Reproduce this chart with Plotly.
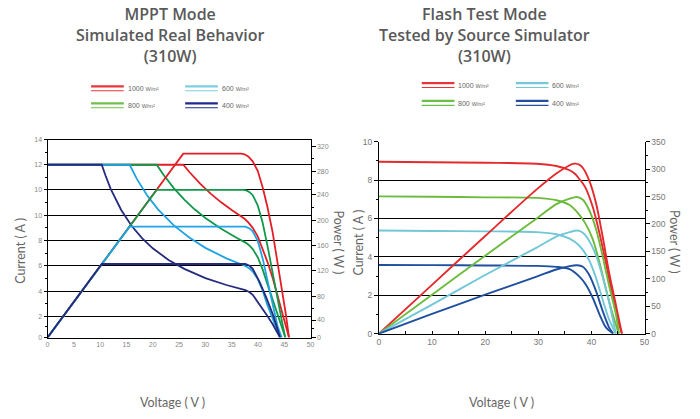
import plotly.graph_objects as go

W, H = 700, 419
def px(x): return x / W
def py(y): return 1 - y / H

# ---------------- Left chart: MPPT mode (simulated) ----------------
irr_labels = ["1000", "800", "600", "400"]

mppt_p_v_1000 = [0, 25.8, 36.8, 37.45, 38.2, 39.0, 39.95, 40.9, 41.8, 42.8, 43.7, 44.65, 45.3, 45.9]
mppt_p_w_1000 = [0, 310, 310, 309, 305, 297, 281, 253, 220, 177, 127, 78, 39, 0]
mppt_p_v_800 = [0, 20.75, 37.2, 37.8, 38.4, 39.0, 39.95, 40.9, 41.8, 42.8, 43.7, 44.65, 45.2]
mppt_p_w_800 = [0, 249, 249, 248, 245, 240, 223, 193, 155, 111, 67, 23, 0]
mppt_p_v_600 = [0, 15.6, 37.6, 38.4, 39.0, 39.95, 40.9, 41.8, 42.8, 43.7, 44.5]
mppt_p_w_600 = [0, 187, 187, 184, 179, 163, 133, 94, 56, 20, 0]
mppt_p_v_400 = [0, 10.3, 37.6, 38.4, 39.0, 40.3, 41.6, 42.8, 43.7, 44.2]
mppt_p_w_400 = [0, 124, 124, 121, 116, 94, 67, 39.5, 15, 0]

mppt_i_v_1000 = [0, 25.8, 27, 29, 31, 33, 35, 36.8, 37.45, 38.2, 39.0, 39.95, 40.9, 41.8, 42.8, 43.7, 44.65, 45.3, 45.9]
mppt_i_a_1000 = [12, 12, 11.48, 10.69, 10.0, 9.39, 8.86, 8.42, 8.25, 7.98, 7.62, 7.03, 6.19, 5.26, 4.14, 2.91, 1.75, 0.86, 0]
mppt_i_v_800 = [0, 20.75, 22, 24, 26, 28, 30, 33, 36, 37.2, 37.8, 38.4, 39.0, 39.95, 40.9, 41.8, 42.8, 43.7, 44.65, 45.2]
mppt_i_a_800 = [12, 12, 11.32, 10.38, 9.58, 8.89, 8.3, 7.55, 6.92, 6.69, 6.56, 6.38, 6.15, 5.58, 4.72, 3.71, 2.59, 1.53, 0.52, 0]
mppt_i_v_600 = [0, 15.6, 17, 19, 21, 24, 27, 30, 34, 37.6, 38.4, 39.0, 39.95, 40.9, 41.8, 42.8, 43.7, 44.5]
mppt_i_a_600 = [12, 12, 11.0, 9.84, 8.9, 7.79, 6.93, 6.23, 5.5, 4.97, 4.79, 4.59, 4.08, 3.25, 2.25, 1.31, 0.46, 0]
mppt_i_v_400 = [0, 10.3, 11, 12, 14, 16, 18, 20, 23, 26, 30, 34, 37.6, 38.4, 39.0, 40.3, 41.6, 42.8, 43.7, 44.2]
mppt_i_a_400 = [12, 12, 11.27, 10.33, 8.86, 7.75, 6.89, 6.2, 5.39, 4.77, 4.13, 3.65, 3.30, 3.15, 2.97, 2.33, 1.61, 0.92, 0.34, 0]

left_x_ticks = [0, 5, 10, 15, 20, 25, 30, 35, 40, 45, 50]
left_i_tickvals = [0, 1.47, 3.21, 4.97, 6.74, 8.50, 10.26, 12.0, 13.72]
left_i_ticktext = ["0", "2", "4", "6", "8", "10", "10", "12", "14"]
left_p_tickvals = [0, 29.6, 69.7, 112.5, 155.3, 198, 240.3, 280.4, 322.6]
left_p_ticktext = ["0", "40", "80", "120", "160", "200", "240", "280", "320"]

# ---------------- Right chart: Flash test mode ----------------
ft_i_v_1000 = [0, 10, 20, 29.7, 33.4, 35.9, 37.0, 37.75, 38.4, 39.0, 39.6, 40.25, 40.9, 41.5, 42.1, 42.7, 43.3, 44.0, 44.6, 45.2, 45.75]
ft_i_a_1000 = [8.95, 8.93, 8.9, 8.85, 8.73, 8.51, 8.3, 8.05, 7.82, 7.54, 7.13, 6.61, 5.95, 5.26, 4.5, 3.73, 2.9, 2.03, 1.25, 0.51, 0]
ft_p_v_1000 = [0, 10, 20, 29.7, 33.4, 35.9, 36.5, 37.0, 37.7, 38.4, 39.6, 40.9, 42.1, 43.3, 44.6, 45.75]
ft_p_w_1000 = [0, 89, 178, 263, 292, 307, 309.5, 310, 308, 302, 279, 237, 178, 113, 53, 0]
ft_i_v_800 = [0, 10, 20, 29.7, 33.4, 35.9, 37.75, 39.0, 40.25, 41.5, 42.7, 44.0, 45.15]
ft_i_a_800 = [7.15, 7.13, 7.1, 7.07, 6.95, 6.7, 6.19, 5.68, 4.92, 3.73, 2.37, 1.02, 0]
ft_p_v_800 = [0, 10, 20, 29.7, 33.4, 35.9, 37.3, 38.4, 39.6, 40.9, 42.1, 43.3, 44.6, 45.2]
ft_p_w_800 = [0, 71, 142, 210, 236, 246, 249, 244, 225, 190, 142, 89, 36, 0]
ft_i_v_600 = [0, 10, 20, 29.7, 33.4, 35.9, 37.75, 39.6, 40.9, 42.1, 43.3, 44.6]
ft_i_a_600 = [5.37, 5.35, 5.33, 5.29, 5.18, 4.95, 4.58, 3.81, 2.88, 1.78, 0.76, 0]
ft_p_v_600 = [0, 10, 20, 29.7, 33.4, 35.9, 37.3, 38.4, 39.6, 40.9, 42.1, 43.3, 44.6]
ft_p_w_600 = [0, 53, 107, 157, 177, 185, 188, 184, 169, 142, 104, 59, 0]
ft_i_v_400 = [0, 10, 20, 29.7, 33.4, 35.9, 37.75, 39.0, 40.25, 41.5, 42.7, 44.1]
ft_i_a_400 = [3.58, 3.57, 3.55, 3.53, 3.48, 3.36, 2.97, 2.54, 1.87, 1.02, 0.34, 0]
ft_p_v_400 = [0, 10, 20, 29.7, 33.4, 35.9, 37.3, 38.4, 39.6, 40.9, 42.1, 43.3, 44.1]
ft_p_w_400 = [0, 36, 71, 104, 117, 123, 124.6, 122, 107, 77, 42, 12, 0]
ft_grid_a = [2, 4, 6, 8]

# ---------------- Colours ----------------
left_colors = ["#e41e26", "#12984a", "#1ea3e3", "#252b7d"]
right_colors = ["#e52a2e", "#6cbb3c", "#72c7d6", "#1f4f9f"]
legend_colors_left = ["#e8343a", "#6cbf48", "#7dcfe0", "#1e2a8c"]
legend_colors_right = ["#e8343a", "#6cbf48", "#72c9da", "#24509f"]

fig = go.Figure()

left_p = [(mppt_p_v_1000, mppt_p_w_1000), (mppt_p_v_800, mppt_p_w_800),
          (mppt_p_v_600, mppt_p_w_600), (mppt_p_v_400, mppt_p_w_400)]
left_i = [(mppt_i_v_1000, mppt_i_a_1000), (mppt_i_v_800, mppt_i_a_800),
          (mppt_i_v_600, mppt_i_a_600), (mppt_i_v_400, mppt_i_a_400)]
for k in range(4):
    fig.add_trace(go.Scatter(x=left_p[k][0], y=left_p[k][1], mode="lines",
                             line=dict(color=left_colors[k], width=1.8),
                             xaxis="x", yaxis="y2", showlegend=False))
    fig.add_trace(go.Scatter(x=left_i[k][0], y=left_i[k][1], mode="lines",
                             line=dict(color=left_colors[k], width=1.8),
                             xaxis="x", yaxis="y", showlegend=False))

right_p = [(ft_p_v_1000, ft_p_w_1000), (ft_p_v_800, ft_p_w_800),
           (ft_p_v_600, ft_p_w_600), (ft_p_v_400, ft_p_w_400)]
right_i = [(ft_i_v_1000, ft_i_a_1000), (ft_i_v_800, ft_i_a_800),
           (ft_i_v_600, ft_i_a_600), (ft_i_v_400, ft_i_a_400)]
for k in range(4):
    fig.add_trace(go.Scatter(x=right_p[k][0], y=right_p[k][1], mode="lines",
                             line=dict(color=right_colors[k], width=1.9, shape="spline", smoothing=0.8),
                             xaxis="x2", yaxis="y4", showlegend=False))
    fig.add_trace(go.Scatter(x=right_i[k][0], y=right_i[k][1], mode="lines",
                             line=dict(color=right_colors[k], width=1.9, shape="spline", smoothing=0.8),
                             xaxis="x2", yaxis="y3", showlegend=False))

tickfont_l = dict(family="Liberation Sans", size=7, color="#888888")
tickfont_r = dict(family="Liberation Sans", size=8.5, color="#777777")

def mids(v):
    return [(a + b) / 2 for a, b in zip(v[:-1], v[1:])]

layout = dict(
    width=W, height=H, margin=dict(l=0, r=0, t=0, b=0),
    paper_bgcolor="white", plot_bgcolor="rgba(0,0,0,0)", showlegend=False,
    xaxis=dict(domain=[px(46), px(311.7)], range=[0, 50], tickmode="array", tickvals=left_x_ticks,
               showline=True, linecolor="black", linewidth=1, mirror=True, ticks="",
               showgrid=False, zeroline=False, tickfont=tickfont_l, anchor="y", fixedrange=True),
    yaxis=dict(domain=[py(340.7), py(138.3)], range=[0, 13.72], tickmode="array",
               tickvals=left_i_tickvals, ticktext=left_i_ticktext,
               showgrid=True, gridcolor="black", gridwidth=1, showline=True, linecolor="black",
               ticks="outside", ticklen=3, tickcolor="black", zeroline=False, tickfont=tickfont_l,
               minor=dict(tickmode="array", tickvals=mids(left_i_tickvals), ticks="outside",
                          ticklen=2, tickcolor="black", showgrid=False),
               anchor="x"),
    yaxis2=dict(overlaying="y", side="right", anchor="x", range=[0, 333], tickmode="array",
                tickvals=left_p_tickvals, ticktext=left_p_ticktext, showgrid=False,
                showline=True, linecolor="black", ticks="outside", ticklen=4, tickcolor="black",
                zeroline=False, tickfont=tickfont_l,
                minor=dict(tickmode="array", tickvals=mids(left_p_tickvals), ticks="outside",
                           ticklen=2, tickcolor="black", showgrid=False)),
    xaxis2=dict(domain=[px(380.7), px(649)], range=[0, 50], dtick=10, tick0=0,
                showline=True, linecolor="black", linewidth=1, ticks="inside", ticklen=3,
                tickcolor="black", showgrid=False, zeroline=False, tickfont=tickfont_r,
                minor=dict(dtick=5, ticks="inside", ticklen=3, tickcolor="black", showgrid=False),
                anchor="y3"),
    yaxis3=dict(domain=[py(336.7), py(140)], range=[0, 10], dtick=2, tick0=0,
                showgrid=False, showline=True, linecolor="black",
                ticks="outside", ticklen=4, tickcolor="black", zeroline=False, tickfont=tickfont_r,
                minor=dict(dtick=1, ticks="outside", ticklen=2, tickcolor="black", showgrid=False),
                anchor="x2"),
    yaxis4=dict(overlaying="y3", side="right", anchor="x2", range=[0, 350], dtick=50, tick0=0,
                showgrid=False, showline=True, linecolor="black", ticks="outside", ticklen=4,
                tickcolor="black", zeroline=False, tickfont=tickfont_r,
                minor=dict(dtick=25, ticks="outside", ticklen=2, tickcolor="black", showgrid=False)),
    yaxis5=dict(overlaying="y3", anchor="x2", range=[0, 10], tickmode="array", tickvals=ft_grid_a,
                showgrid=True, gridcolor="black", gridwidth=1, showticklabels=False, ticks="",
                showline=False, zeroline=False),
)
fig.update_layout(**layout)
# empty trace so the grid-only axis is drawn
fig.add_trace(go.Scatter(x=[], y=[], xaxis="x2", yaxis="y5", showlegend=False, hoverinfo="skip"))

title_font = dict(family="Open Sans", size=16, color="#595959", weight=600)
label_font = dict(family="Lato", size=12.5, color="#666666")
ann = []
ann.append(dict(text="MPPT Mode<br>Simulated Real Behavior<br>(310W)", x=px(170), y=py(31),
                xref="paper", yref="paper", showarrow=False, font=title_font,
                xanchor="center", yanchor="middle", align="center"))
ann.append(dict(text="Flash Test Mode<br>Tested by Source Simulator<br>(310W)", x=px(487), y=py(31),
                xref="paper", yref="paper", showarrow=False, font=title_font,
                xanchor="center", yanchor="middle", align="center"))
for (x, y, t, a) in [(19, 252, "Current ( A )", -90), (340, 243, "Power ( W )", 90),
                     (360, 243, "Current ( A )", -90), (680, 243, "Power ( W )", 90),
                     (172, 407, "Voltage ( V )", 0), (505, 407, "Voltage ( V )", 0)]:
    ann.append(dict(text=t, x=px(x), y=py(y), xref="paper", yref="paper", showarrow=False,
                    font=label_font, textangle=a, xanchor="center", yanchor="middle"))

# Legends (drawn as decoration)
shapes = []
def legend_block(x0, y0, dx, dy, colors):
    order = [(0, 0), (0, 1), (1, 0), (1, 1)]
    for k in range(4):
        c, r = order[k]
        lx = x0 + c * dx
        ly = y0 + r * dy
        shapes.append(dict(type="line", xref="paper", yref="paper", x0=px(lx), x1=px(lx + 33),
                           y0=py(ly), y1=py(ly), line=dict(color=colors[k], width=2.2)))
        shapes.append(dict(type="line", xref="paper", yref="paper", x0=px(lx), x1=px(lx + 33),
                           y0=py(ly + 4.5), y1=py(ly + 4.5), line=dict(color=colors[k], width=1.1)))
        ann.append(dict(text=irr_labels[k] + " <span style='font-size:5.5px'>W/m²</span>",
                        x=px(lx + 35), y=py(ly + 2.3), xref="paper", yref="paper", showarrow=False,
                        font=dict(family="Liberation Sans", size=7, color="#666666"),
                        xanchor="left", yanchor="middle"))

legend_block(90, 83.3, 95, 17.5, legend_colors_left)
legend_block(424, 80, 95, 18.3, legend_colors_right)

fig.update_layout(annotations=ann, shapes=shapes)
fig.write_html("out.html", config={"displayModeBar": False},
               post_script="document.body.style.margin='0px';document.body.style.overflow='hidden';")
